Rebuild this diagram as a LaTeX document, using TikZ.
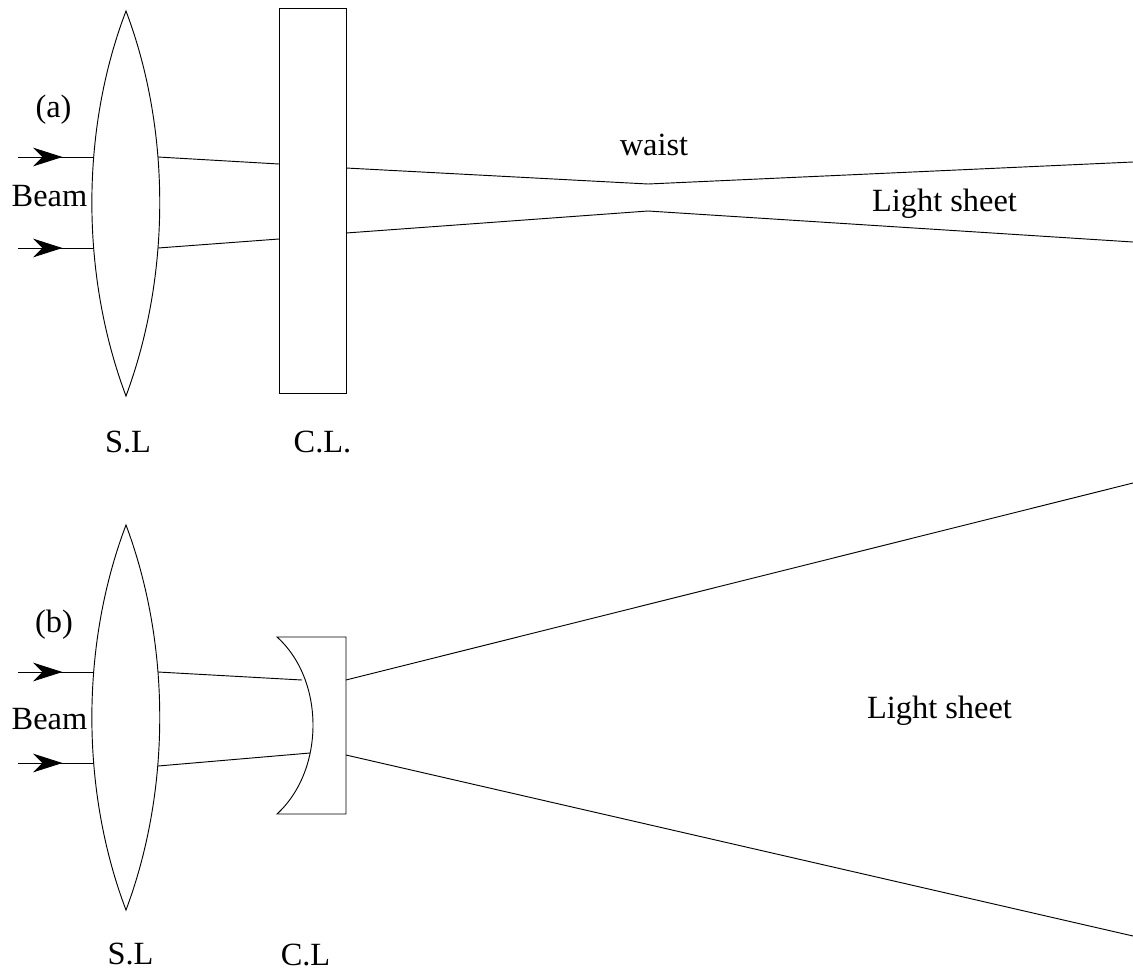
\documentclass[tikz,border=0pt]{standalone}
\usepackage{fontspec}
\setmainfont{Liberation Serif}
\usetikzlibrary{arrows.meta,decorations.markings}
\tikzset{
  optic/.style={draw=black,line width=0.7pt},
  ray/.style={draw=black,line width=0.7pt},
  label/.style={inner sep=0pt,anchor=base,font=\fontsize{24.3}{27}\selectfont},
  inray/.style={ray,postaction={decorate},decoration={markings,mark=at position 0.585 with {\arrow[line width=0.7pt]{Stealth[length=22pt,width=14pt,inset=7pt]}}}}
}
\begin{document}
\begin{tikzpicture}[x=0.75pt,y=-0.75pt]
\useasboundingbox (0,0) rectangle (1133,972);
% (a)
\draw[optic] (126,11) .. controls (80.5,130) and (80.5,275) .. (126,396) .. controls (171,275) and (171,130) .. (126,11) -- cycle;
\node[draw=black,line width=0.7pt,inner sep=0pt,minimum width=67pt*0.75,minimum height=385pt*0.75,anchor=north west] (clA) at (279,8) {};
\coordinate (a1) at (18,157); \coordinate (a2) at (94,157);
\coordinate (a3) at (18,248); \coordinate (a4) at (94,248);
\draw[inray] (a1) -- (a2);
\draw[inray] (a3) -- (a4);
\draw[ray] (158,157) -- (279,164);
\draw[ray] (158,248) -- (279,239);
\draw[ray] (346,168) -- (648,184) -- (1133,162);
\draw[ray] (346,233) -- (648,211) -- (1133,242);
\node[label] (ta) at (53.5,117) {(a)};
\node[label] (beamA) at (49.5,206) {Beam};
\node[label] (waist) at (654,155) {waist};
\node[label] (lsA) at (944.5,211) {Light sheet};
\node[label] (slA) at (128,452) {S.L};
\node[label] (clAt) at (322.5,452) {C.L.};
% (b)
\draw[optic] (126,525) .. controls (80.5,645) and (80.5,790) .. (126,910) .. controls (171,790) and (171,645) .. (126,525) -- cycle;
\draw[optic] (277,637) -- (346,637) -- (346,814) -- (277,814) .. controls (325,770) and (325,680) .. (277,637) -- cycle;
\coordinate (b1) at (18,672); \coordinate (b2) at (94,672);
\coordinate (b3) at (18,763); \coordinate (b4) at (94,763);
\draw[inray] (b1) -- (b2);
\draw[inray] (b3) -- (b4);
\draw[ray] (158,672) -- (302,680);
\draw[ray] (158,766) -- (310,753);
\draw[ray] (346,680) -- (1133,483);
\draw[ray] (346,755) -- (1133,936);
\node[label] (tb) at (54,632) {(b)};
\node[label] (beamB) at (49.5,729) {Beam};
\node[label] (lsB) at (939.5,718) {Light sheet};
\node[label] (slB) at (130.5,964) {S.L};
\node[label] (clBt) at (305.5,965) {C.L};
\end{tikzpicture}
\end{document}
